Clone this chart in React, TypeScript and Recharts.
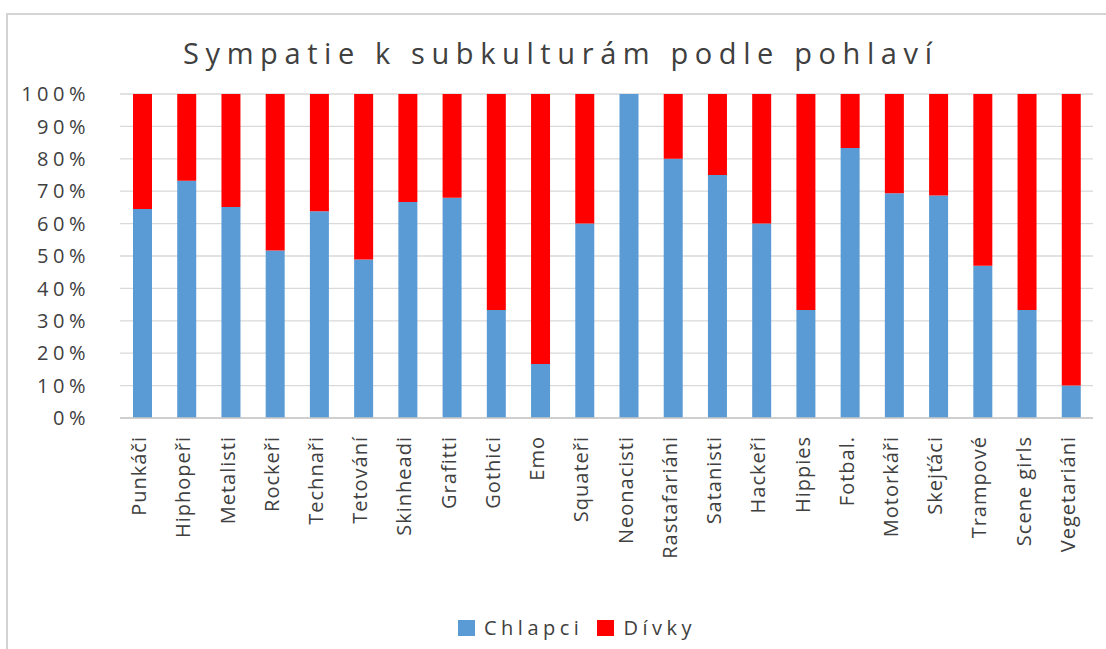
import { BarChart, Bar, XAxis, YAxis, CartesianGrid, Legend } from 'recharts';

const categories = [
  'Punkáči', 'Hiphopeři', 'Metalisti', 'Rockeři', 'Technaři', 'Tetování', 'Skinheadi', 'Grafitti',
  'Gothici', 'Emo', 'Squateři', 'Neonacisti', 'Rastafariáni', 'Satanisti', 'Hackeři', 'Hippies',
  'Fotbal.', 'Motorkáři', 'Skejťáci', 'Trampové', 'Scene girls', 'Vegetariáni',
];
const chlapci = [64.5, 73.2, 65.1, 51.7, 63.8, 48.9, 66.7, 68, 33.3, 16.7, 60, 100, 80, 75, 60, 33.3, 83.3, 69.4, 68.7, 47, 33.3, 10];
const divky = [35.5, 26.8, 34.9, 48.3, 36.2, 51.1, 33.3, 32, 66.7, 83.3, 40, 0, 20, 25, 40, 66.7, 16.7, 30.6, 31.3, 53, 66.7, 90];
const yTicks = [0, 10, 20, 30, 40, 50, 60, 70, 80, 90, 100];
const title = 'Sympatie k subkulturám podle pohlaví';

const data = categories.map((name, i) => ({ name, chlapci: chlapci[i], divky: divky[i] }));

const FONT = '"Open Sans", sans-serif';
const TEXT = '#404040';

const XTick = ({ x, y, payload }: any) => (
  <text
    x={x}
    y={y}
    dy={4}
    transform={`rotate(-90, ${x}, ${y})`}
    textAnchor="end"
    fontSize={20}
    fontFamily={FONT}
    fill={TEXT}
    style={{ letterSpacing: 1 }}
  >
    {payload.value}
  </text>
);

const renderLegend = ({ payload }: any) => (
  <div style={{ display: 'flex', alignItems: 'center', fontFamily: FONT, fontSize: 20, color: TEXT }}>
    {(payload || []).map((p: any) => (
      <div key={p.value} style={{ display: 'flex', alignItems: 'center', marginRight: 14 }}>
        <span style={{ display: 'inline-block', width: 17, height: 16, background: p.color, marginRight: 9 }} />
        <span style={{ letterSpacing: 4.5 }}>{p.value}</span>
      </div>
    ))}
  </div>
);

export default function App() {
  return (
    <div style={{ position: 'relative', width: 1106, height: 649, background: '#fff', overflow: 'hidden' }}>
      <style>{'body{margin:0}'}</style>
      <div
        style={{
          position: 'absolute',
          left: 6,
          top: 13,
          width: 1140,
          height: 700,
          borderLeft: '2px solid #d4d4d4',
          borderTop: '2px solid #d4d4d4',
        }}
      />
      <svg width={1106} height={80} style={{ position: 'absolute', left: 0, top: 0 }}>
        <text x={183} y={64} textLength={749} lengthAdjust="spacing" fontSize={29} fontFamily={FONT} fill={TEXT}>
          {title}
        </text>
      </svg>
      <div style={{ position: 'absolute', left: 0, top: 0 }}>
        <BarChart width={1106} height={649} data={data} margin={{ top: 94, right: 13, bottom: 81, left: 20 }}>
          <CartesianGrid vertical={false} stroke="#d9d9d9" strokeWidth={1.3} />
          <XAxis
            dataKey="name"
            interval={0}
            height={150}
            tickSize={0}
            tickMargin={18}
            axisLine={{ stroke: '#c8c8c8', strokeWidth: 1.3 }}
            tickLine={false}
            tick={<XTick />}
          />
          <YAxis
            width={100}
            domain={[0, 100]}
            ticks={yTicks}
            tickFormatter={(v) => `${v}%`}
            tickSize={0}
            tickMargin={30}
            axisLine={false}
            tickLine={false}
            tick={{ fontSize: 20, fontFamily: FONT, fill: TEXT, style: { letterSpacing: 4.5 } }}
          />
          <Legend
            verticalAlign="middle"
            content={renderLegend}
            wrapperStyle={{ position: 'absolute', top: 614, left: 458, width: 'auto', height: 20 }}
          />
          <Bar dataKey="chlapci" name="Chlapci" stackId="a" fill="#5B9BD5" barSize={19} isAnimationActive={false} />
          <Bar dataKey="divky" name="Dívky" stackId="a" fill="#FF0000" barSize={19} isAnimationActive={false} />
        </BarChart>
      </div>
    </div>
  );
}
